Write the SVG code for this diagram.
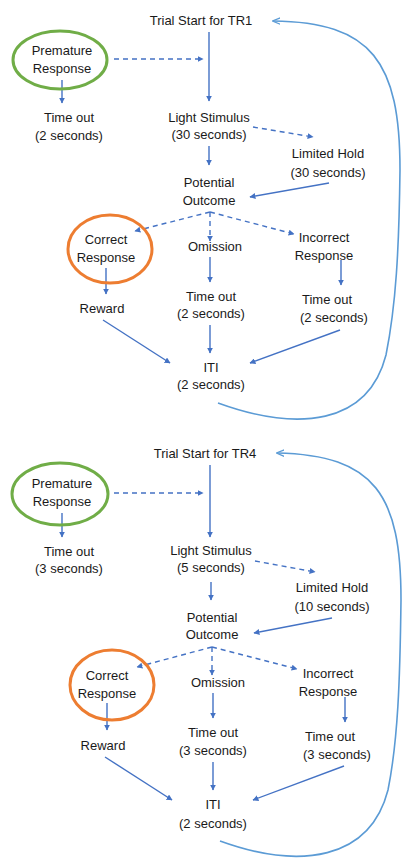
<svg xmlns="http://www.w3.org/2000/svg" width="404" height="859" viewBox="0 0 404 859">
<defs>
<marker id="ah" viewBox="0 0 10 10" refX="9" refY="5" markerWidth="6" markerHeight="6" markerUnits="userSpaceOnUse" orient="auto">
<path d="M0,0 L10,5 L0,10 z" fill="#4472C4"/>
</marker>
<marker id="ah2" viewBox="0 0 10 10" refX="9" refY="5" markerWidth="8" markerHeight="8" markerUnits="userSpaceOnUse" orient="auto">
<path d="M0,1 L10,5 L0,9" fill="none" stroke="#5B9BD5" stroke-width="1.6"/>
</marker>
</defs>
<style>
text{font-family:"Liberation Sans",Arial,sans-serif;font-size:13px;fill:#1a1a1a;text-anchor:middle}
.s{stroke:#4472C4;stroke-width:1.4;fill:none;marker-end:url(#ah)}
.d{stroke:#4472C4;stroke-width:1.4;fill:none;stroke-dasharray:5,4;marker-end:url(#ah)}
.loop{stroke:#5B9BD5;stroke-width:1.6;fill:none;marker-end:url(#ah2)}
.g{fill:none;stroke:#70AD47;stroke-width:3}
.o{fill:none;stroke:#ED7D31;stroke-width:3}
</style>
<rect width="404" height="859" fill="#ffffff"/>
<g id="connectors">
<line class="s" x1="209" y1="32" x2="209" y2="101"/>
<line class="d" x1="114" y1="59" x2="203" y2="59"/>
<line class="s" x1="62" y1="80" x2="62" y2="103"/>
<line class="s" x1="209" y1="146" x2="209" y2="165"/>
<line class="d" x1="253" y1="127" x2="313" y2="137"/>
<line class="s" x1="329" y1="183" x2="250" y2="197"/>
<line class="d" x1="210" y1="212" x2="135" y2="231"/>
<line class="d" x1="210" y1="212" x2="210" y2="241"/>
<line class="d" x1="210" y1="212" x2="294" y2="234"/>
<line class="s" x1="106" y1="268" x2="106" y2="294"/>
<line class="s" x1="210" y1="257" x2="210" y2="282"/>
<line class="s" x1="341" y1="260" x2="341" y2="285"/>
<line class="s" x1="210" y1="325" x2="210" y2="353"/>
<line class="s" x1="103" y1="320" x2="170" y2="363"/>
<line class="s" x1="340" y1="330" x2="250" y2="363"/>
<path class="loop" d="M218,403 C298,432 368,425 386,355 C396,305 399,250 400,170 C400,62 372,22 273,21"/>
<line class="s" x1="210" y1="465" x2="210" y2="537"/>
<line class="d" x1="114" y1="493" x2="203" y2="493"/>
<line class="s" x1="62" y1="513" x2="62" y2="537"/>
<line class="s" x1="211" y1="582" x2="211" y2="600"/>
<line class="d" x1="255" y1="561" x2="315" y2="572"/>
<line class="s" x1="332" y1="618" x2="254" y2="633"/>
<line class="d" x1="212" y1="647" x2="137" y2="667"/>
<line class="d" x1="212" y1="647" x2="212" y2="675"/>
<line class="d" x1="212" y1="647" x2="297" y2="669"/>
<line class="s" x1="107" y1="703" x2="107" y2="730"/>
<line class="s" x1="213" y1="693" x2="213" y2="718"/>
<line class="s" x1="345" y1="697" x2="345" y2="722"/>
<line class="s" x1="213" y1="762" x2="213" y2="790"/>
<line class="s" x1="105" y1="757" x2="172" y2="800"/>
<line class="s" x1="344" y1="766" x2="253" y2="800"/>
<path class="loop" d="M220,841 C300,870 370,860 388,790 C398,740 400,680 401,600 C401,495 375,455 277,453"/>
</g>
<g id="trial1"><text x="201" y="25">Trial Start for TR1</text></g>
<g id="premature1"><ellipse class="g" cx="60" cy="60" rx="47" ry="29"/><text x="62" y="55">Premature</text><text x="62" y="73">Response</text></g>
<g id="timeout1a"><text x="69" y="122">Time out</text><text x="69" y="140">(2 seconds)</text></g>
<g id="light1"><text x="209" y="122">Light Stimulus</text><text x="209" y="139">(30 seconds)</text></g>
<g id="hold1"><text x="328" y="158">Limited Hold</text><text x="328" y="177">(30 seconds)</text></g>
<g id="outcome1"><text x="209" y="187">Potential</text><text x="209" y="205">Outcome</text></g>
<g id="correct1"><ellipse class="o" cx="110" cy="249" rx="42" ry="34"/><text x="106" y="244">Correct</text><text x="106" y="262">Response</text></g>
<g id="omission1"><text x="215" y="251">Omission</text></g>
<g id="incorrect1"><text x="324" y="242">Incorrect</text><text x="324" y="260">Response</text></g>
<g id="reward1"><text x="102" y="313">Reward</text></g>
<g id="timeout1b"><text x="211" y="301">Time out</text><text x="211" y="318">(2 seconds)</text></g>
<g id="timeout1c"><text x="327" y="304">Time out</text><text x="334" y="322">(2 seconds)</text></g>
<g id="iti1"><text x="211" y="372">ITI</text><text x="211" y="389">(2 seconds)</text></g>
<g id="trial4"><text x="205" y="458">Trial Start for TR4</text></g>
<g id="premature4"><ellipse class="g" cx="60" cy="494" rx="48" ry="31"/><text x="62" y="488">Premature</text><text x="62" y="506">Response</text></g>
<g id="timeout4a"><text x="69" y="556">Time out</text><text x="69" y="573">(3 seconds)</text></g>
<g id="light4"><text x="211" y="555">Light Stimulus</text><text x="211" y="572">(5 seconds)</text></g>
<g id="hold4"><text x="332" y="592">Limited Hold</text><text x="332" y="611">(10 seconds)</text></g>
<g id="outcome4"><text x="212" y="622">Potential</text><text x="212" y="639">Outcome</text></g>
<g id="correct4"><ellipse class="o" cx="112" cy="685" rx="42" ry="35"/><text x="107" y="680">Correct</text><text x="107" y="698">Response</text></g>
<g id="omission4"><text x="218" y="687">Omission</text></g>
<g id="incorrect4"><text x="328" y="678">Incorrect</text><text x="328" y="696">Response</text></g>
<g id="reward4"><text x="103" y="750">Reward</text></g>
<g id="timeout4b"><text x="213" y="737">Time out</text><text x="213" y="755">(3 seconds)</text></g>
<g id="timeout4c"><text x="330" y="741">Time out</text><text x="337" y="759">(3 seconds)</text></g>
<g id="iti4"><text x="213" y="809">ITI</text><text x="213" y="828">(2 seconds)</text></g>
</svg>
